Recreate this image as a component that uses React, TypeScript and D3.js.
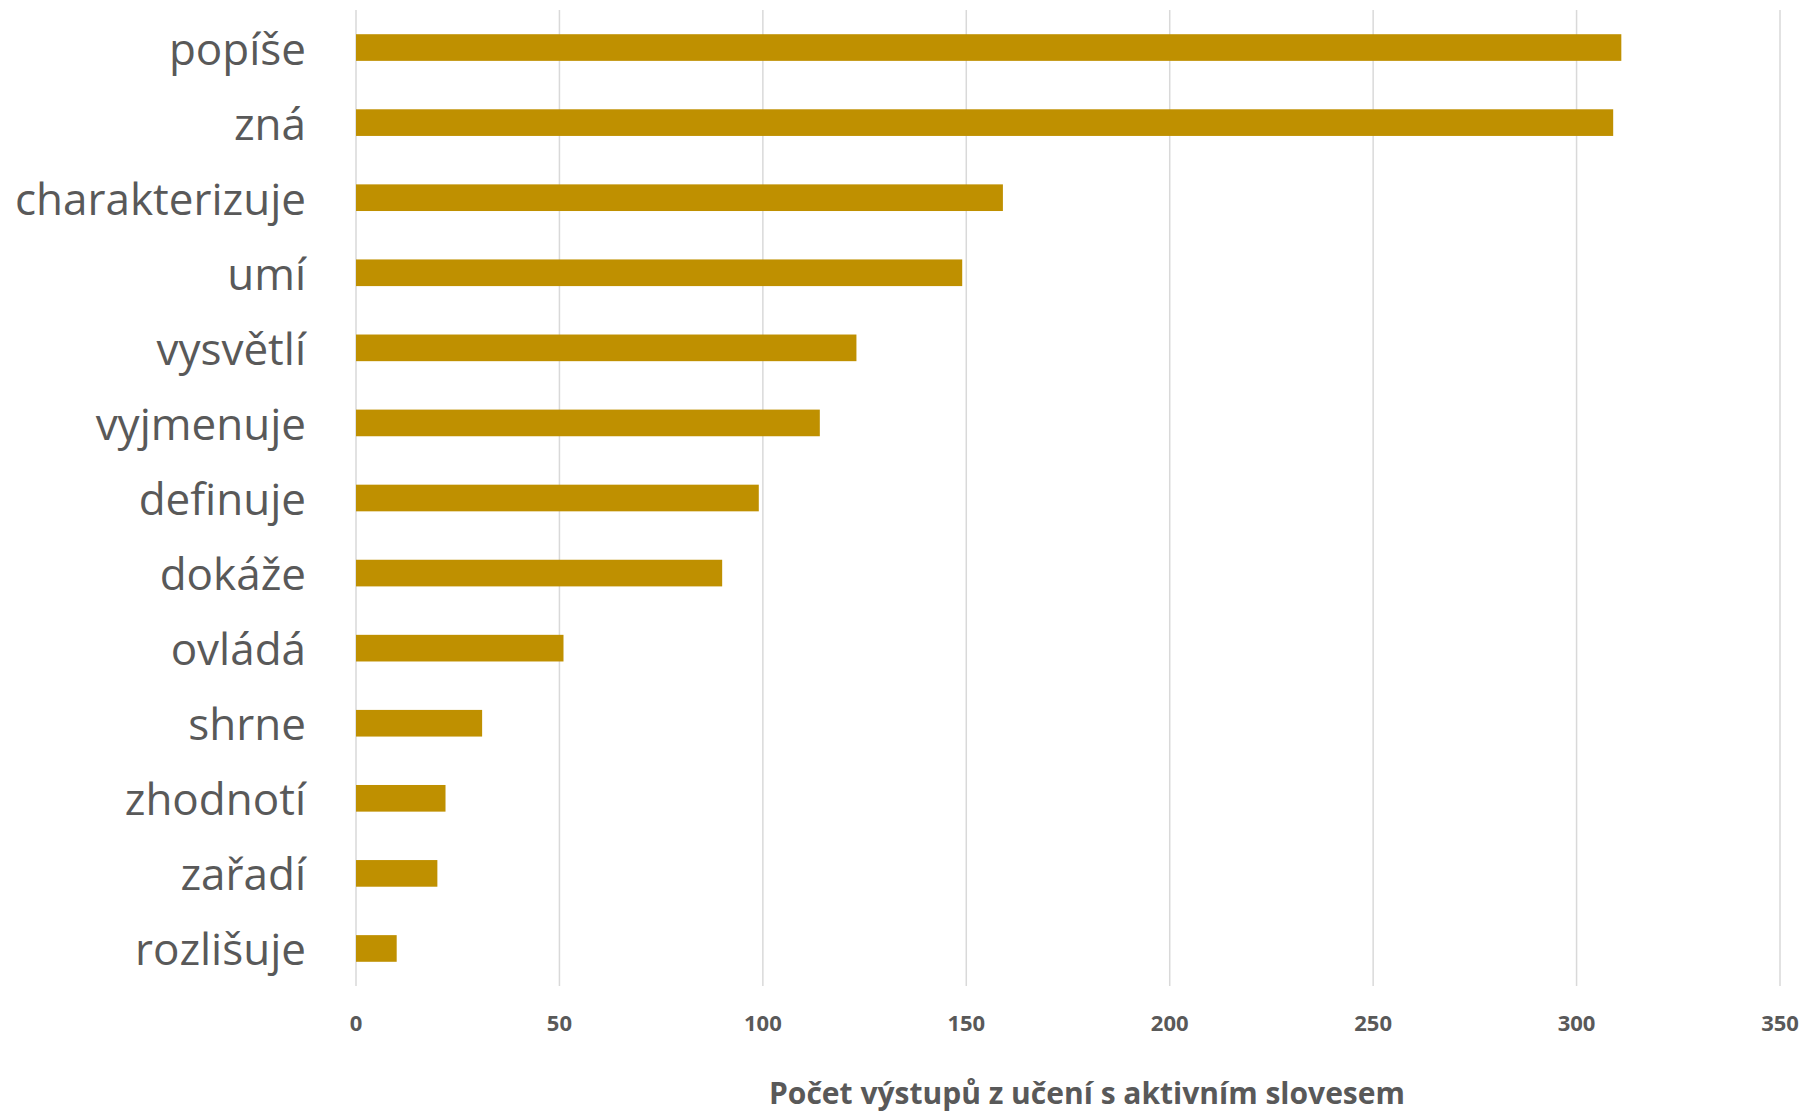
import React from "react";
import * as d3 from "d3";

const categories = [
  "popíše", "zná", "charakterizuje", "umí", "vysvětlí", "vyjmenuje", "definuje",
  "dokáže", "ovládá", "shrne", "zhodnotí", "zařadí", "rozlišuje",
];
const values = [311, 309, 159, 149, 123, 114, 99, 90, 51, 31, 22, 20, 10];
const xTicks = [0, 50, 100, 150, 200, 250, 300, 350];
const xTitle = "Počet výstupů z učení s aktivním slovesem";

const W = 1819;
const H = 1113;
const left = 356;
const right = 1780;
const top = 10;
const bottom = 986;

export default function App() {
  const x = d3.scaleLinear().domain([0, 350]).range([left, right]);
  const y = d3
    .scaleBand<string>()
    .domain(categories)
    .range([top, bottom])
    .paddingInner(0.645)
    .paddingOuter(0.3225);
  const font = "'Open Sans', 'Noto Sans', sans-serif";
  return (
    <svg
      width={W}
      height={H}
      style={{ position: "absolute", left: 0, top: 0, background: "#fff" }}
    >
      {xTicks.map((t) => (
        <line
          key={"g" + t}
          x1={x(t)}
          x2={x(t)}
          y1={top}
          y2={bottom}
          stroke="#d9d9d9"
          strokeWidth={1.5}
        />
      ))}
      {categories.map((c, i) => (
        <rect
          key={c}
          x={x(0)}
          y={y(c)!}
          width={x(values[i]) - x(0)}
          height={y.bandwidth()}
          fill="#BF9000"
        />
      ))}
      {categories.map((c) => (
        <text
          key={"l" + c}
          x={left - 50}
          y={y(c)! + y.bandwidth() / 2}
          textAnchor="end"
          dominantBaseline="central"
          fontFamily={font}
          fontSize={44}
          fill="#595959"
        >
          {c}
        </text>
      ))}
      {xTicks.map((t) => (
        <text
          key={"t" + t}
          x={x(t)}
          y={1022}
          textAnchor="middle"
          dominantBaseline="central"
          fontFamily={font}
          fontWeight="bold"
          fontSize={22}
          fill="#595959"
        >
          {t}
        </text>
      ))}
      <text
        x={(left + right) / 2 + 19}
        y={1092}
        textAnchor="middle"
        dominantBaseline="central"
        fontFamily={font}
        fontWeight="bold"
        fontSize={30}
        fill="#595959"
      >
        {xTitle}
      </text>
    </svg>
  );
}
